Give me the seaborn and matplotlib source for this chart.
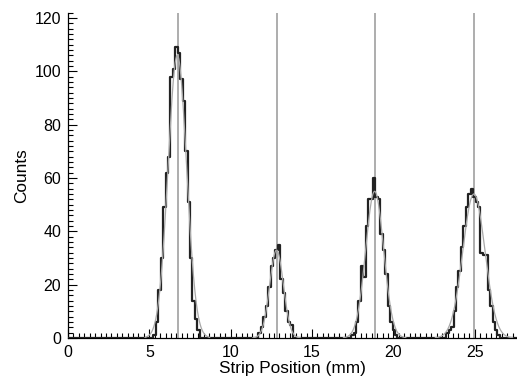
import numpy as np
import pandas as pd
import matplotlib
matplotlib.use("Agg")
import matplotlib.pyplot as plt
import seaborn as sns
from matplotlib.ticker import AutoMinorLocator

sns.set_theme(style="ticks")
plt.rcParams["font.family"] = ["Liberation Sans", "DejaVu Sans"]

# Histogram bins are 0.15 mm wide; each peak is given by its first bin edge
# and the counts of consecutive bins.
BIN_WIDTH = 0.15
peak_starts = [5.25, 11.70, 17.40, 23.25]
peak1_counts = [1, 6, 18, 30, 49, 62, 68, 98, 101, 109, 107, 97, 89, 70, 51, 30, 14, 7, 3]
peak2_counts = [2, 4, 8, 12, 19, 27, 30, 33, 35, 22, 17, 10, 6, 5]
peak3_counts = [1, 2, 6, 14, 27, 23, 42, 52, 52, 60, 53, 52, 39, 33, 24, 12, 6, 3, 1]
peak4_counts = [2, 3, 4, 10, 19, 25, 34, 42, 49, 54, 56, 53, 51, 49, 32, 31, 31, 18, 12, 6, 3, 1]

# Gaussian fit parameters for each peak
fit_amplitude = [106, 33, 55, 54]
fit_center = [6.72, 12.82, 18.85, 24.95]
fit_sigma = [0.57, 0.42, 0.55, 0.68]

# Nominal strip centres (mm)
strip_centers = [6.77, 12.82, 18.87, 24.95]

x_ticks = [0, 5, 10, 15, 20, 25]
y_ticks = [0, 20, 40, 60, 80, 100, 120]

rows = []
for start, counts in zip(peak_starts,
                         [peak1_counts, peak2_counts, peak3_counts, peak4_counts]):
    for i, c in enumerate(counts):
        rows.append({"position": start + BIN_WIDTH * (i + 0.5), "counts": c})
hist_df = pd.DataFrame(rows)

fig = plt.figure(figsize=(5.17, 3.83), dpi=100)
ax = fig.add_axes([68 / 517, 45 / 383, 1 - 68 / 517, 325.4 / 383])

for xc in strip_centers:
    ax.axvline(xc, color="#a0a0a0", lw=1.2, zorder=1)

sns.histplot(data=hist_df, x="position", weights="counts",
             binwidth=BIN_WIDTH, binrange=(0, 27.6),
             element="step", fill=False, color="#222222",
             linewidth=1.6, ax=ax, zorder=3)

for a, mu, s in zip(fit_amplitude, fit_center, fit_sigma):
    xs = np.linspace(mu - 3.5 * s, mu + 3.5 * s, 200)
    ys = a * np.exp(-0.5 * ((xs - mu) / s) ** 2)
    sns.lineplot(x=xs, y=ys, color="#a8a8a8", lw=0.9, ax=ax, zorder=4)

ax.set_xlim(0, 27.6)
ax.set_ylim(0, 122)
ax.set_xticks(x_ticks)
ax.set_yticks(y_ticks)
ax.xaxis.set_minor_locator(AutoMinorLocator(15))
ax.yaxis.set_minor_locator(AutoMinorLocator(10))

for side in ["top", "right"]:
    ax.spines[side].set_visible(False)
for side in ["left", "bottom"]:
    ax.spines[side].set_color("black")
    ax.spines[side].set_linewidth(0.9)

ax.tick_params(which="both", direction="in", color="black", width=0.8,
               labelsize=11.5, labelcolor="black", pad=5)
ax.tick_params(which="major", length=6.5)
ax.tick_params(which="minor", length=3.5)

ax.set_xlabel("Strip Position (mm)", fontsize=12.4, color="black", labelpad=1)
ax.set_ylabel("Counts", fontsize=12.4, color="black", labelpad=4)

fig.savefig("out.png", dpi=100)
